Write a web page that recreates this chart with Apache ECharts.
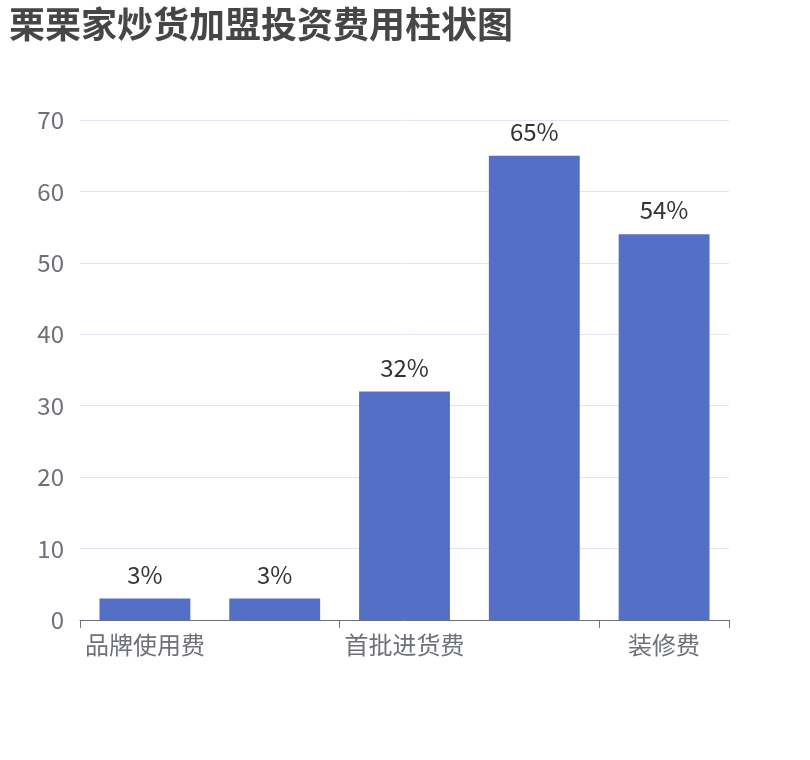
<!DOCTYPE html>
<html>
<head>
    <meta charset="utf-8">
    <title>栗栗家炒货加盟投资费用柱状图</title>
    <script src="https://cdn.jsdelivr.net/npm/echarts@6/dist/echarts.min.js"></script>
    <style>
        html, body { margin: 0; padding: 0; background: #fff; }
        #main { width: 810px; height: 760px; }
    </style>
</head>
<body>
    <div id="main"></div>
    <script type="text/javascript">
        var categories = ['品牌使用费', '加盟费', '首批进货费', '设备费', '装修费'];
        var values = [3, 3, 32, 65, 54];

        var chart = echarts.init(document.getElementById('main'));
        var option = {
            title: {
                text: '栗栗家炒货加盟投资费用柱状图',
                left: 4,
                top: 1,
                textStyle: {
                    fontSize: 36,
                    fontWeight: 'bold',
                    color: '#464646',
                    fontFamily: 'Noto Sans CJK SC'
                }
            },
            grid: {
                left: 80,
                right: 81,
                top: 120,
                bottom: 140
            },
            xAxis: {
                type: 'category',
                data: categories,
                axisLine: { lineStyle: { color: '#6e7079' } },
                axisTick: { show: true, length: 8, lineStyle: { color: '#6e7079' } },
                axisLabel: {
                    interval: 1,
                    fontSize: 24,
                    color: '#6e7079',
                    margin: 13,
                    fontFamily: 'Noto Sans CJK SC'
                }
            },
            yAxis: {
                type: 'value',
                min: 0,
                max: 70,
                interval: 10,
                splitLine: { lineStyle: { color: '#e0e6f1' } },
                axisLabel: {
                    fontSize: 24,
                    color: '#6e7079',
                    margin: 16,
                    fontFamily: 'Noto Sans CJK SC'
                }
            },
            series: [
                {
                    type: 'bar',
                    data: values,
                    barWidth: '70%',
                    itemStyle: { color: '#5470c6' },
                    label: {
                        show: true,
                        position: 'top',
                        formatter: '{c}%',
                        fontSize: 24,
                        color: '#333',
                        distance: 12,
                        fontFamily: 'Noto Sans CJK SC'
                    }
                }
            ]
        };
        chart.setOption(option);
    </script>
</body>
</html>
